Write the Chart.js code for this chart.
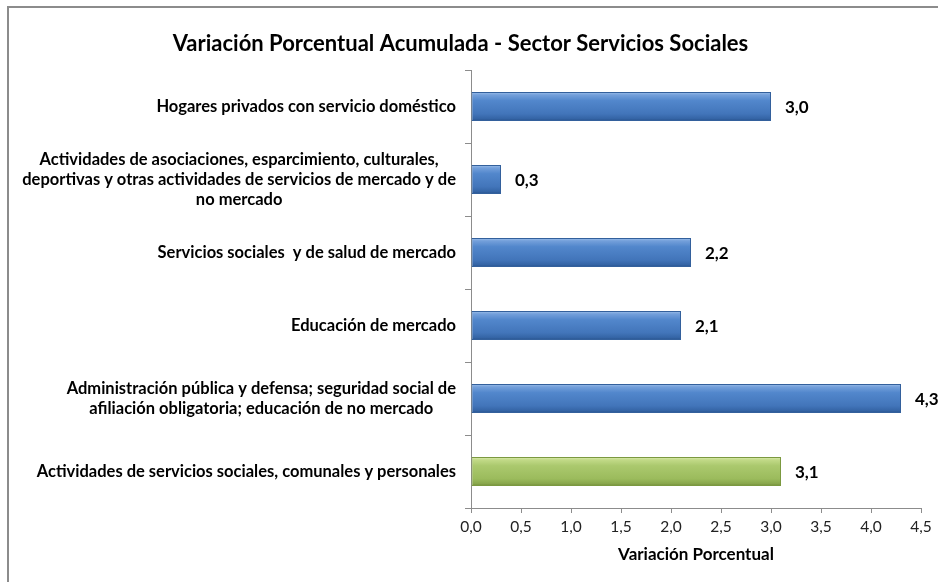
<!DOCTYPE html>
<html>
<head>
<meta charset="utf-8">
<script src="https://cdn.jsdelivr.net/npm/chart.js@4.4.1/dist/chart.umd.min.js"></script>
<style>
  html, body { margin: 0; padding: 0; background: #fff; overflow: hidden; }
  #frame {
    position: absolute; left: 7px; top: 6px; width: 1200px; height: 900px;
    border-top: 2px solid #8c8c8c; border-left: 2px solid #8c8c8c;
  }
  #chart { position: absolute; left: 0; top: 0; }
</style>
</head>
<body>
<div id="frame"></div>
<canvas id="chart" width="938" height="582"></canvas>
<script>
const categories = [
    ["Hogares privados con servicio doméstico"],
    ["Actividades de asociaciones, esparcimiento, culturales,",
     "deportivas y otras actividades de servicios de mercado y de",
     "no mercado"],
    ["Servicios sociales  y de salud de mercado"],
    ["Educación de mercado"],
    ["Administración pública y defensa; seguridad social de",
     "afiliación obligatoria; educación de no mercado"],
    ["Actividades de servicios sociales, comunales y personales"]
];
const variacion = [3.0, 0.3, 2.2, 2.1, 4.3, 3.1];
const xTicks = [0, 0.5, 1, 1.5, 2, 2.5, 3, 3.5, 4, 4.5];

const FONT = "Lato, 'Open Sans', sans-serif";
const fmt = v => Number(v).toFixed(1).replace(".", ",");

const blueStops = [[0, "#a3c4ec"], [0.1, "#74a0db"], [0.3, "#5287cc"], [0.75, "#4275ba"], [0.92, "#3464a5"], [1, "#264f88"]];
const greenStops = [[0, "#e0eeb6"], [0.1, "#c2da88"], [0.3, "#abc96e"], [0.75, "#9bbb5c"], [0.92, "#88a64b"], [1, "#6c8836"]];

function barFill(ctx)
{
    const chart = ctx.chart;
    const stops = ctx.dataIndex === variacion.length - 1 ? greenStops : blueStops;
    const yScale = chart.scales.y;
    if (!chart.chartArea || !yScale || yScale.height === undefined)
    {
        return stops[2][1];
    }
    const half = yScale.height / categories.length * 0.4 / 2;
    const yc = yScale.getPixelForValue(ctx.dataIndex);
    const g = chart.ctx.createLinearGradient(0, yc - half, 0, yc + half);
    stops.forEach(s => g.addColorStop(s[0], s[1]));
    return g;
}

// category labels: lines centred inside a block that sits right aligned to the axis
const categoryLabels = {
    id: "categoryLabels",
    afterDraw(chart)
    {
        const c = chart.ctx;
        const yScale = chart.scales.y;
        const right = chart.chartArea.left - 15;
        const lineH = 20;
        c.save();
        c.font = "bold 16.5px " + FONT;
        c.fillStyle = "#000";
        c.textBaseline = "middle";
        c.textAlign = "center";
        categories.forEach((lines, i) =>
        {
            const w = Math.max(...lines.map(l => c.measureText(l).width));
            const cx = right - w / 2;
            const yc = yScale.getPixelForValue(i);
            const y0 = yc - (lines.length - 1) * lineH / 2;
            lines.forEach((l, k) => c.fillText(l, cx, y0 + k * lineH));
        });
        c.restore();
    }
};

// value labels at the end of each bar
const valueLabels = {
    id: "valueLabels",
    afterDatasetsDraw(chart)
    {
        const c = chart.ctx;
        const meta = chart.getDatasetMeta(0);
        c.save();
        c.font = "bold 17px " + FONT;
        c.fillStyle = "#000";
        c.textBaseline = "middle";
        c.textAlign = "left";
        meta.data.forEach((bar, i) =>
        {
            c.fillText(fmt(variacion[i]), bar.x + 14, bar.y + 1);
        });
        c.restore();
    }
};

const dataChart = {
    labels: categories,
    datasets: [{
        label: "Variación Porcentual",
        data: variacion,
        backgroundColor: barFill,
        borderColor: ctx => ctx.dataIndex === variacion.length - 1 ? "#7b9940" : "#33609c",
        borderWidth: 1,
        borderSkipped: false,
        barPercentage: 0.4,
        categoryPercentage: 1
    }]
};

const config = {
    type: "bar",
    data: dataChart,
    options: {
        indexAxis: "y",
        responsive: false,
        devicePixelRatio: 1,
        animation: false,
        layout: { padding: { left: 0, right: 17, top: 0, bottom: 13 } },
        plugins: {
            legend: { display: false },
            tooltip: { enabled: false },
            title: {
                display: true,
                text: "Variación Porcentual Acumulada - Sector Servicios Sociales",
                color: "#000",
                font: { family: FONT, size: 22, weight: "bold" },
                padding: { top: 31, bottom: 12.6 }
            }
        },
        scales: {
            y: {
                type: "category",
                offset: true,
                grid: { display: true, drawOnChartArea: false, offset: true, tickLength: 6, color: "#8c8c8c" },
                border: { display: true, color: "#8c8c8c", width: 1 },
                ticks: { display: false },
                afterFit: s => { s.width = 471; }
            },
            x: {
                type: "linear",
                min: 0,
                max: 4.5,
                afterBuildTicks: s => { s.ticks = xTicks.map(v => ({ value: v })); },
                grid: { display: true, drawOnChartArea: false, tickLength: 5, color: "#8c8c8c" },
                border: { display: true, color: "#8c8c8c", width: 1 },
                ticks: {
                    color: "#222",
                    padding: 5,
                    maxRotation: 0,
                    font: { family: FONT, size: 15.5 },
                    callback: v => fmt(v)
                },
                title: {
                    display: true,
                    text: "Variación Porcentual",
                    color: "#000",
                    font: { family: FONT, size: 17, weight: "bold" },
                    padding: { top: 3, bottom: 4 }
                }
            }
        }
    },
    plugins: [categoryLabels, valueLabels]
};

const myChart = new Chart(document.getElementById("chart"), config);
myChart.update();
</script>
</body>
</html>
